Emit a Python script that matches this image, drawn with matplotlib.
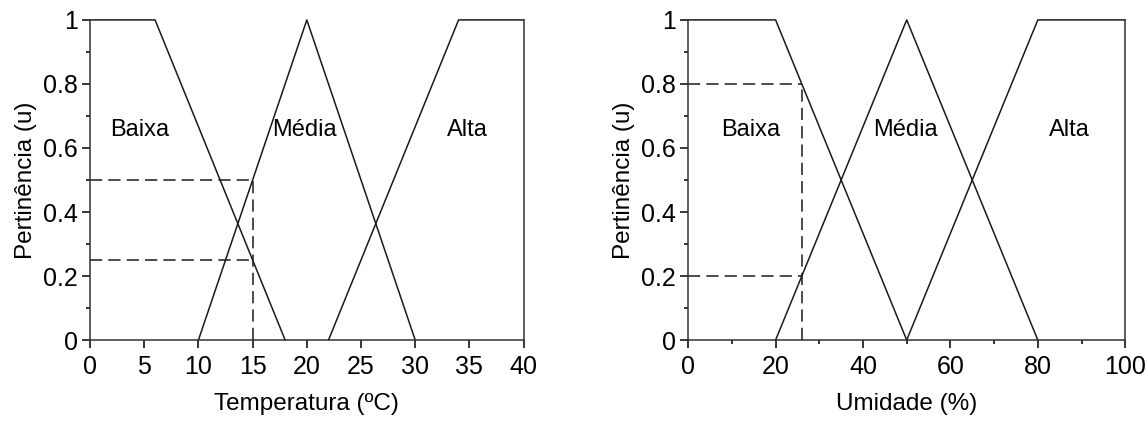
import matplotlib
matplotlib.use("Agg")
import matplotlib.pyplot as plt
from matplotlib.ticker import MultipleLocator

plt.rcParams['font.family'] = ['Liberation Sans', 'DejaVu Sans']

# Temperature membership functions
temp_baixa_x = [0, 6, 18]
temp_baixa_y = [1, 1, 0]
temp_media_x = [10, 20, 30]
temp_media_y = [0, 1, 0]
temp_alta_x = [22, 34, 40]
temp_alta_y = [0, 1, 1]
temp_input = 15
temp_levels = [0.5, 0.25]

# Humidity membership functions
umid_baixa_x = [0, 20, 50]
umid_baixa_y = [1, 1, 0]
umid_media_x = [20, 50, 80]
umid_media_y = [0, 1, 0]
umid_alta_x = [50, 80, 100]
umid_alta_y = [0, 1, 1]
umid_input = 26
umid_levels = [0.8, 0.2]

labels = ["Baixa", "Média", "Alta"]
temp_label_x = [4.6, 19.8, 34.8]
umid_label_x = [14.2, 49.7, 87.2]
label_y = 0.655

fig = plt.figure(figsize=(11.47, 4.24), dpi=100)
ax1 = fig.add_axes([0.0785, 0.198, 0.378, 0.755])
ax2 = fig.add_axes([0.600, 0.198, 0.381, 0.755])

lw = 1.1
col = "#1a1a1a"
tick_fs = 18
label_fs = 17.5
text_fs = 17


def setup(ax, xmax, xmajor, xminor, xlabel):
    ax.set_xlim(0, xmax)
    ax.set_ylim(0, 1)
    ax.spines['top'].set_visible(False)
    for s in ['left', 'bottom', 'right']:
        ax.spines[s].set_linewidth(1.1)
        ax.spines[s].set_color('#333333')
    ax.xaxis.set_major_locator(MultipleLocator(xmajor))
    if xminor:
        ax.xaxis.set_minor_locator(MultipleLocator(xminor))
    ax.yaxis.set_minor_locator(MultipleLocator(0.1))
    ax.set_yticks([0, 0.2, 0.4, 0.6, 0.8, 1.0])
    ax.set_yticklabels(["0", "0.2", "0.4", "0.6", "0.8", "1"])
    ax.tick_params(axis='both', which='major', direction='out', length=6,
                   width=1.1, labelsize=tick_fs, pad=3, right=False, top=False)
    ax.tick_params(axis='both', which='minor', direction='out', length=3,
                   width=1.1, right=False, top=False)
    ax.tick_params(axis='x', which='major', pad=5)
    ax.set_xlabel(xlabel, fontsize=label_fs, labelpad=10)
    ax.set_ylabel("Pertinência (u)", fontsize=label_fs, labelpad=4)


setup(ax1, 40, 5, None, "Temperatura (ºC)")
setup(ax2, 100, 20, 10, "Umidade (%)")

for ax, series in [(ax1, [(temp_baixa_x, temp_baixa_y), (temp_media_x, temp_media_y), (temp_alta_x, temp_alta_y)]),
                   (ax2, [(umid_baixa_x, umid_baixa_y), (umid_media_x, umid_media_y), (umid_alta_x, umid_alta_y)])]:
    for x, y in series:
        ax.plot(x, y, color=col, lw=lw, clip_on=False)

for ax, xin, levels, lx in [(ax1, temp_input, temp_levels, temp_label_x),
                            (ax2, umid_input, umid_levels, umid_label_x)]:
    for lv in levels:
        ax.plot([0, xin], [lv, lv], color=col, lw=lw, dashes=(8, 4))
    ax.plot([xin, xin], [0, max(levels)], color=col, lw=lw, dashes=(8, 4))
    for t, x in zip(labels, lx):
        ax.text(x, label_y, t, ha='center', va='center', fontsize=text_fs)

fig.savefig("out.png", dpi=100)
